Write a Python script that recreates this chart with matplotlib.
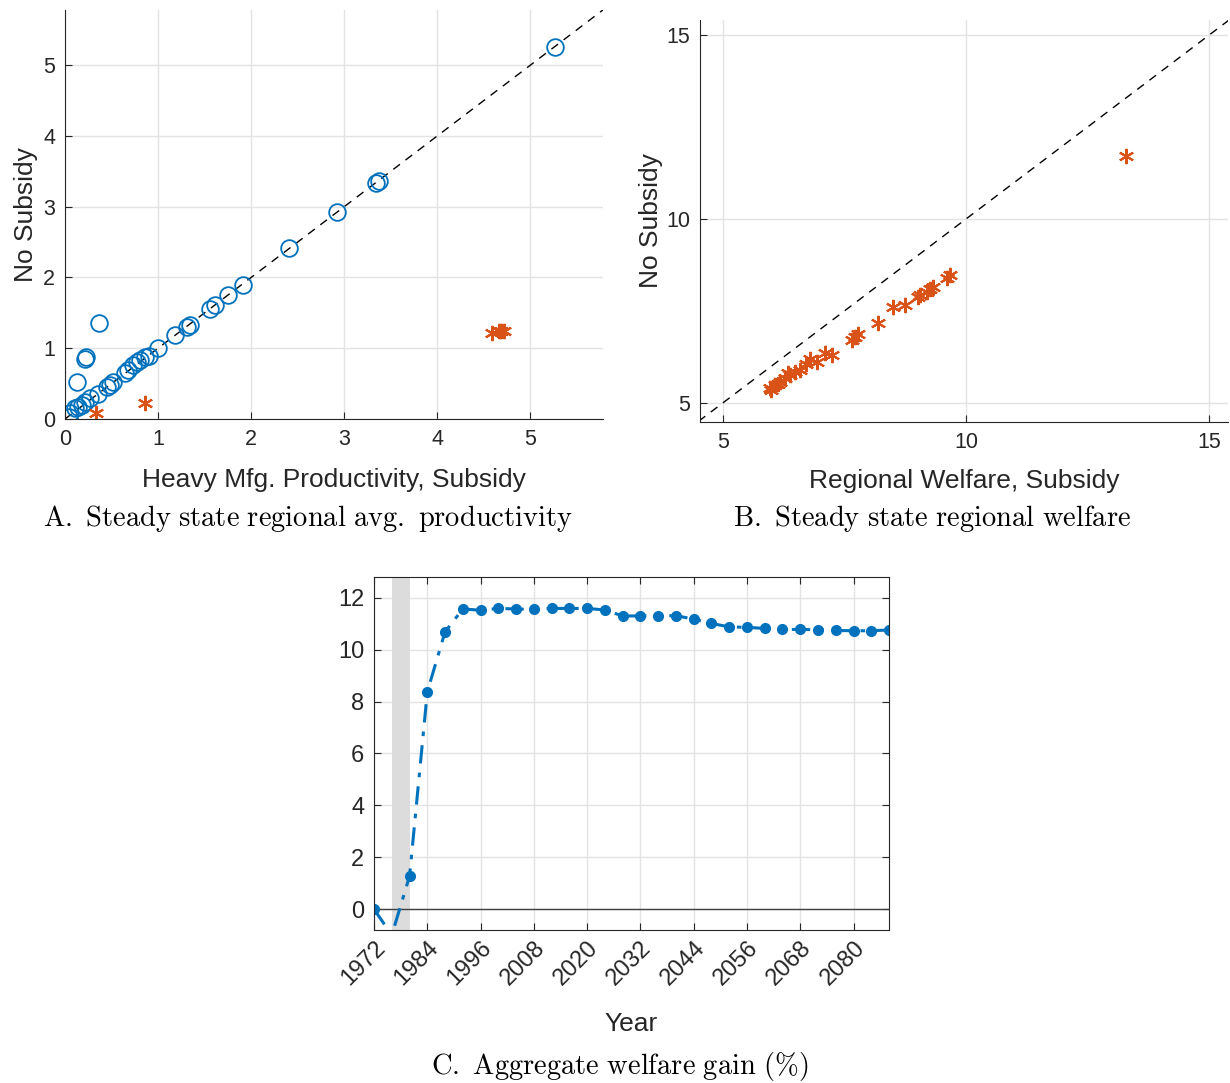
import matplotlib
matplotlib.use("Agg")
import matplotlib.pyplot as plt
import numpy as np

plt.rcParams['font.family'] = ['Liberation Sans', 'DejaVu Sans']
plt.rcParams['mathtext.fontset'] = 'cm'

blue = '#0072BD'
orange = '#D95319'
grid_c = '#e3e3e3'
spine_c = '#262626'

# panel A: productivity, subsidy vs no subsidy
prod_sub_circ = [5.26, 3.34, 3.37, 2.92, 2.41, 1.91, 1.75, 1.61, 1.56, 1.34, 1.31,
                 1.18, 1.00, 0.90, 0.86, 0.81, 0.77, 0.73, 0.68, 0.65, 0.52, 0.48,
                 0.45, 0.36, 0.27, 0.22, 0.18, 0.14, 0.11, 0.05, 0.04,
                 0.37, 0.23, 0.22, 0.13]
prod_nosub_circ = [5.25, 3.33, 3.36, 2.92, 2.42, 1.90, 1.75, 1.61, 1.56, 1.33, 1.30,
                   1.19, 1.00, 0.89, 0.87, 0.83, 0.80, 0.76, 0.69, 0.65, 0.53, 0.48,
                   0.45, 0.36, 0.29, 0.24, 0.20, 0.17, 0.15, 0.08, 0.03,
                   1.36, 0.88, 0.85, 0.53]
prod_sub_star = [0.33, 0.86, 4.59, 4.66, 4.69, 4.72]
prod_nosub_star = [0.08, 0.22, 1.22, 1.24, 1.25, 1.25]

# panel B: regional welfare
welf_sub = [13.29, 9.67, 9.60, 9.33, 9.26, 9.19, 9.05, 9.02, 8.74, 8.50, 8.20, 7.78,
            7.72, 7.65, 7.24, 7.10, 6.93, 6.79, 6.71, 6.58, 6.48, 6.38, 6.34, 6.28,
            6.17, 6.14, 6.07, 6.00, 5.97]
welf_nosub = [11.71, 8.48, 8.39, 8.16, 8.09, 8.02, 7.93, 7.89, 7.66, 7.62, 7.17, 6.88,
              6.80, 6.71, 6.30, 6.37, 6.12, 6.19, 6.06, 5.90, 5.85, 5.76, 5.81, 5.67,
              5.58, 5.52, 5.49, 5.35, 5.40]

# panel C: aggregate welfare gain
years = [1972, 1976, 1980, 1984, 1988, 1992, 1996, 2000, 2004, 2008, 2012, 2016,
         2020, 2024, 2028, 2032, 2036, 2040, 2044, 2048, 2052, 2056, 2060, 2064,
         2068, 2072, 2076, 2080, 2084, 2088]
gain = [0.0, -1.0, 1.28, 8.38, 10.69, 11.57, 11.52, 11.59, 11.57, 11.55, 11.59, 11.59,
        11.59, 11.53, 11.30, 11.30, 11.31, 11.31, 11.18, 11.01, 10.88, 10.86, 10.82,
        10.78, 10.78, 10.77, 10.74, 10.73, 10.73, 10.76]
shade = (1976, 1980)

fig = plt.figure(figsize=(12.3, 10.83), dpi=100)


def style(ax, box=False, size=15.5):
    ax.grid(True, color=grid_c, linewidth=1)
    ax.set_axisbelow(True)
    ax.tick_params(direction='in', length=5, labelsize=size, color=spine_c,
                   labelcolor=spine_c, top=box, right=box, pad=7)
    for s in ax.spines.values():
        s.set_color(spine_c)
    if not box:
        ax.spines['top'].set_visible(False)
        ax.spines['right'].set_visible(False)


# A
ax1 = fig.add_axes([0.0528, 0.6131, 0.4374, 0.3777])
style(ax1)
ax1.plot([0, 6], [0, 6], '--', color='k', lw=1, dashes=(6, 5))
ax1.plot(prod_sub_circ, prod_nosub_circ, 'o', mfc='none', mec=blue, ms=12, mew=1.3)
ax1.plot(prod_sub_star, prod_nosub_star, marker=(6, 2, 0), ls='none', color=orange,
         ms=11, mew=1.5)
ax1.set_xlim(0, 5.78)
ax1.set_ylim(0, 5.78)
ax1.set_xticks(range(6))
ax1.set_yticks(range(6))
ax1.set_xlabel('Heavy Mfg. Productivity, Subsidy', fontsize=19, color=spine_c, labelpad=13)
ax1.set_ylabel('No Subsidy', fontsize=19, color=spine_c, labelpad=4)

# B
ax2 = fig.add_axes([0.5691, 0.6103, 0.4293, 0.3712])
style(ax2)
ax2.plot([4, 16], [4, 16], '--', color='k', lw=1, dashes=(6, 5))
ax2.plot(welf_sub, welf_nosub, marker=(6, 2, 0), ls='none', color=orange, ms=11, mew=1.5)
ax2.set_xlim(4.53, 15.39)
ax2.set_ylim(4.48, 15.41)
ax2.set_xticks([5, 10, 15])
ax2.set_yticks([5, 10, 15])
ax2.set_xlabel('Regional Welfare, Subsidy', fontsize=19, color=spine_c, labelpad=12)
ax2.set_ylabel('No Subsidy', fontsize=19, color=spine_c, labelpad=2)

# C
ax3 = fig.add_axes([0.3041, 0.1413, 0.4187, 0.3259])
style(ax3, box=True, size=17)
ax3.axvspan(shade[0], shade[1], color='#dcdcdc', lw=0)
ax3.axhline(0, color='#404040', lw=1)
ax3.plot(years, gain, '-.', color=blue, lw=2.2, marker='o', ms=7, dashes=(6, 3, 1.5, 3))
ax3.set_xlim(1972, 2088)
ax3.set_ylim(-0.8, 12.8)
ax3.set_xticks(range(1972, 2088, 12))
ax3.set_yticks(range(0, 13, 2))
ax3.tick_params(axis='x', pad=5)
plt.setp(ax3.get_xticklabels(), rotation=45, ha='right', rotation_mode='anchor')
ax3.set_xlabel('Year', fontsize=19, color=spine_c, labelpad=16)

# captions
fig.text(0.2504, 0.521, r'$\mathrm{A.\ Steady\ state\ regional\ avg.\ productivity}$',
         ha='center', va='center', fontsize=20.5)
fig.text(0.7577, 0.521, r'$\mathrm{B.\ Steady\ state\ regional\ welfare}$',
         ha='center', va='center', fontsize=20.5)
fig.text(0.504, 0.015, r'$\mathrm{C.\ Aggregate\ welfare\ gain\ (\%)}$',
         ha='center', va='center', fontsize=20.5)

fig.savefig('out.png', dpi=100)
